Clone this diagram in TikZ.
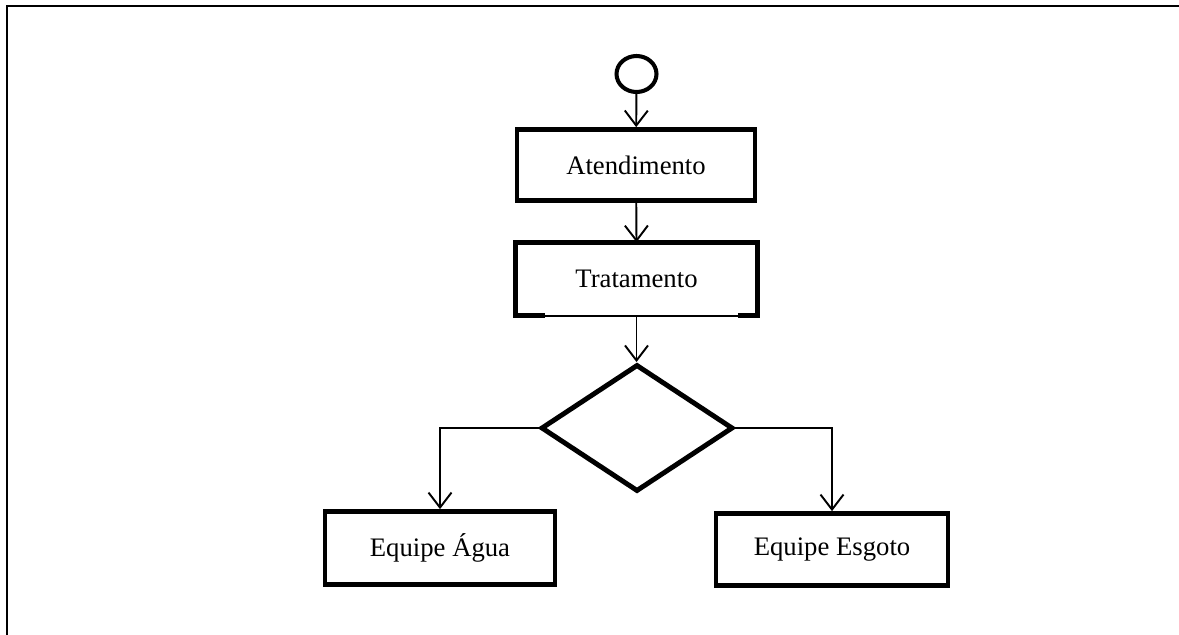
\documentclass[tikz,border=0pt]{standalone}
\usepackage{fontspec}
\setmainfont{Liberation Serif}
\usetikzlibrary{shapes.geometric,arrows.meta}
\begin{document}
\begin{tikzpicture}[x=0.02cm,y=-0.02cm,
  font=\fontsize{15.2}{18}\selectfont,
  frameline/.style={line width=1.1pt},
  stepbox/.style={rectangle,draw,line width=2.7pt,inner sep=0pt},
  flow/.style={line width=1.1pt,-{Straight Barb[length=0.3cm,width=0.46cm]}}]
\useasboundingbox (0,0) rectangle (1179,635);
% page frame (top and left edges)
\draw[frameline] (7,640) -- (7,6) -- (1185,6);

% start marker
\node[ellipse,draw,line width=2.3pt,minimum width=0.8cm,minimum height=0.72cm,inner sep=0pt] (start) at (636.5,74) {};

% steps
\node[stepbox,minimum width=4.76cm,minimum height=1.42cm] (atend) at (636,165) {Atendimento};
\node[rectangle,inner sep=0pt,minimum width=4.84cm,minimum height=1.46cm] (trat) at (636.5,279) {Tratamento};
\draw[line width=2.7pt] ([xshift=0.6cm]trat.south west) -- (trat.south west) -- (trat.north west)
  -- (trat.north east) -- (trat.south east) -- ([xshift=-0.4cm]trat.south east);
\draw[line width=1.1pt] (trat.south west) -- (trat.south east);

% decision
\node[diamond,draw,line width=2.8pt,minimum width=3.84cm,minimum height=2.54cm,inner sep=0pt] (dec) at (637,428) {};

% teams
\node[stepbox,minimum width=4.6cm,minimum height=1.46cm] (agua) at (440,548) {Equipe Água};
\node[stepbox,minimum width=4.64cm,minimum height=1.44cm] (esgoto) at (832,549.5) {Equipe Esgoto};

% connectors
\draw[flow] (start) -- (atend);
\draw[flow] (atend) -- (trat.north);
\draw[flow] (trat.south) -- (trat.south |- dec.north);
\draw[flow] (dec.west) -| (agua.north);
\draw[flow] (dec.east) -| (esgoto.north);
\end{tikzpicture}
\end{document}
